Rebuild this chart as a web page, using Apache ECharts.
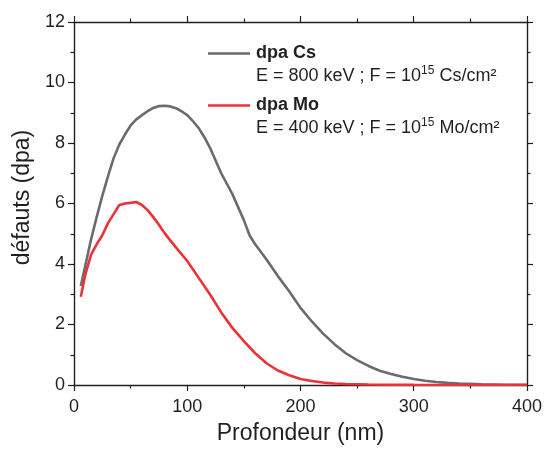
<!DOCTYPE html>
<html>
<head>
<meta charset="utf-8">
<script src="https://cdn.jsdelivr.net/npm/echarts@6/dist/echarts.min.js"></script>
<style>
html,body{margin:0;padding:0;background:#fff;}
#chart{width:545px;height:450px;}
</style>
</head>
<body>
<div id="chart"></div>
<script>
// Depth (nm) and dpa values
var depthCs = [6, 10, 15, 20, 25, 30, 35, 40, 45, 50, 55, 60, 65, 70, 75, 80, 85, 90, 95, 100, 105, 110, 115, 120, 130, 140, 150, 155, 160, 170, 180, 190, 200, 210, 220, 230, 240, 250, 260, 270, 280, 290, 300, 310, 320, 330, 340, 360, 380, 400];
var dpaCs   = [3.27, 3.95, 4.8, 5.55, 6.25, 6.9, 7.5, 7.95, 8.28, 8.58, 8.78, 8.92, 9.05, 9.16, 9.22, 9.23, 9.21, 9.15, 9.05, 8.92, 8.72, 8.5, 8.2, 7.85, 7.0, 6.3, 5.45, 4.95, 4.65, 4.15, 3.6, 3.1, 2.55, 2.1, 1.7, 1.35, 1.05, 0.82, 0.63, 0.47, 0.36, 0.27, 0.2, 0.14, 0.1, 0.07, 0.045, 0.02, 0.01, 0.005];
var depthMo = [6, 10, 15, 20, 25, 30, 35, 40, 45, 50, 55, 60, 65, 70, 75, 80, 85, 90, 100, 110, 120, 130, 140, 150, 160, 170, 180, 190, 200, 210, 220, 230, 240, 260, 280, 300, 350, 400];
var dpaMo   = [2.92, 3.65, 4.3, 4.65, 4.95, 5.35, 5.65, 5.95, 6.0, 6.02, 6.05, 5.95, 5.78, 5.55, 5.3, 5.02, 4.78, 4.55, 4.1, 3.55, 3.0, 2.4, 1.88, 1.45, 1.05, 0.72, 0.48, 0.32, 0.2, 0.13, 0.08, 0.05, 0.035, 0.015, 0.006, 0.003, 0.001, 0];
var seriesNames = ['dpa Cs', 'dpa Mo'];
var legendSub = {
  'dpa Cs': ['E = 800 keV ; F = 10', '15', ' Cs/cm²'],
  'dpa Mo': ['E = 400 keV ; F = 10', '15', ' Mo/cm²']
};
var xTitle = 'Profondeur (nm)';
var yTitle = 'défauts (dpa)';

function pairs(xs, ys){ return xs.map(function(x,i){ return [x, ys[i]]; }); }

var FONT = 'Arial, "Liberation Sans", sans-serif';
var AX = '#231f20';

function legendCfg(name, top){
  return {
    data: [name],
    left: 208, top: top, padding: 0,
    itemWidth: 42, itemHeight: 14, itemGap: 0,
    icon: 'path://M0,5.6 L42,5.6 L42,8.2 L0,8.2 Z',
    selectedMode: false,
    formatter: function(n){
      var s = legendSub[n];
      return '{e| }\n{b|' + n + '}\n{n|' + s[0] + '}{sup|' + s[1] + '}{n|' + s[2] + '}';
    },
    textStyle: {
      fontFamily: FONT, color: AX, fontSize: 18, lineHeight: 23, padding: [0,0,0,1],
      rich: {
        e: {fontSize: 18, lineHeight: 23},
        b: {fontSize: 18, lineHeight: 23, fontWeight: 'bold', color: AX, fontFamily: FONT},
        n: {fontSize: 18, lineHeight: 23, color: AX, fontFamily: FONT},
        sup: {fontSize: 12, lineHeight: 23, color: AX, fontFamily: FONT, verticalAlign: 'top', padding: [0,0,0,0]}
      }
    }
  };
}

var chart = echarts.init(document.getElementById('chart'), null, {renderer: 'canvas'});
chart.setOption({
  animation: false,
  backgroundColor: '#fff',
  grid: {left: 74, right: 16, top: 22, bottom: 61, containLabel: false},
  legend: [legendCfg(seriesNames[0], 19), legendCfg(seriesNames[1], 71)],
  xAxis: [{
    type: 'value', min: 0, max: 400, interval: 100, position: 'bottom',
    name: xTitle, nameLocation: 'middle', nameGap: 37,
    nameTextStyle: {fontFamily: FONT, fontSize: 23, color: AX},
    axisLine: {show: true, onZero: false, lineStyle: {color: AX, width: 1.4}},
    axisTick: {show: true, inside: false, length: 6, lineStyle: {color: AX, width: 1.2}},
    minorTick: {show: true, splitNumber: 2, length: 3.5, lineStyle: {color: AX, width: 1.2}},
    axisLabel: {fontFamily: FONT, fontSize: 18, color: AX, margin: 13},
    splitLine: {show: false}
  }, {
    type: 'value', min: 0, max: 400, interval: 100, position: 'top',
    axisLine: {show: true, onZero: false, lineStyle: {color: AX, width: 1.4}},
    axisTick: {show: true, inside: false, length: 6, lineStyle: {color: AX, width: 1.2}},
    minorTick: {show: true, splitNumber: 2, length: 3.5, lineStyle: {color: AX, width: 1.2}},
    axisLabel: {show: false}, splitLine: {show: false}
  }],
  yAxis: [{
    type: 'value', min: 0, max: 12, interval: 2, position: 'left',
    name: yTitle, nameLocation: 'middle', nameGap: 33, nameRotate: 90,
    nameTextStyle: {fontFamily: FONT, fontSize: 23, color: AX, padding: [0, 0, 0, 12]},
    axisLine: {show: true, onZero: false, lineStyle: {color: AX, width: 1.4}},
    axisTick: {show: true, inside: false, length: 6, lineStyle: {color: AX, width: 1.2}},
    minorTick: {show: true, splitNumber: 2, length: 3.5, lineStyle: {color: AX, width: 1.2}},
    axisLabel: {fontFamily: FONT, fontSize: 18, color: AX, margin: 9},
    splitLine: {show: false}
  }, {
    type: 'value', min: 0, max: 12, interval: 2, position: 'right',
    axisLine: {show: true, onZero: false, lineStyle: {color: AX, width: 1.4}},
    axisTick: {show: true, inside: false, length: 6, lineStyle: {color: AX, width: 1.2}},
    minorTick: {show: true, splitNumber: 2, length: 3.5, lineStyle: {color: AX, width: 1.2}},
    axisLabel: {show: false}, splitLine: {show: false}
  }],
  series: [{
    name: seriesNames[0], type: 'line', data: pairs(depthCs, dpaCs),
    xAxisIndex: 0, yAxisIndex: 0,
    showSymbol: false, symbol: 'none', smooth: false,
    lineStyle: {color: '#6b6b6e', width: 2.6}, itemStyle: {color: '#6b6b6e'}, z: 3
  }, {
    name: seriesNames[1], type: 'line', data: pairs(depthMo, dpaMo),
    xAxisIndex: 0, yAxisIndex: 0,
    showSymbol: false, symbol: 'none', smooth: false,
    lineStyle: {color: '#ec3237', width: 2.6}, itemStyle: {color: '#ec3237'}, z: 4
  }]
});
</script>
</body>
</html>
